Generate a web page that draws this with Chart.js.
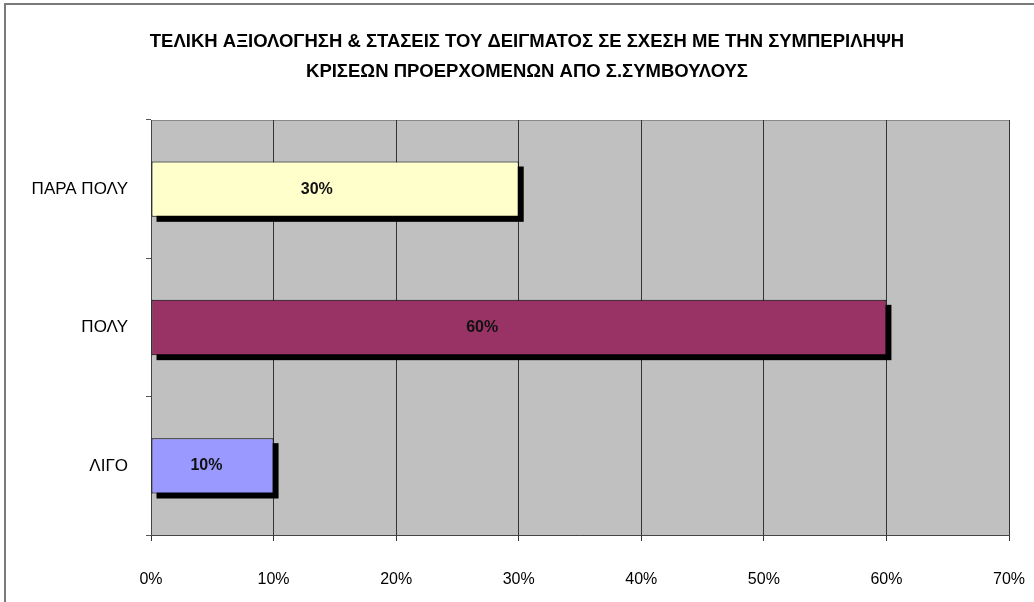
<!DOCTYPE html>
<html>
<head>
<meta charset="utf-8">
<script src="https://cdn.jsdelivr.net/npm/chart.js@4/dist/chart.umd.min.js"></script>
<style>
  html, body { margin: 0; padding: 0; background: #fff; }
  #wrap { width: 1034px; height: 602px; position: relative; }
</style>
</head>
<body>
<div id="wrap"><canvas id="bar-chart" width="1034" height="602"></canvas></div>
<script>
var categories = ['ΠΑΡΑ ΠΟΛΥ', 'ΠΟΛΥ', 'ΛΙΓΟ'];
var percentValues = [30, 60, 10];
var barColors = ['#FFFFCC', '#993366', '#9999FF'];
var titleLines = [
  'ΤΕΛΙΚΗ ΑΞΙΟΛΟΓΗΣΗ & ΣΤΑΣΕΙΣ ΤΟΥ ΔΕΙΓΜΑΤΟΣ ΣΕ ΣΧΕΣΗ ΜΕ ΤΗΝ ΣΥΜΠΕΡΙΛΗΨΗ',
  'ΚΡΙΣΕΩΝ ΠΡΟΕΡΧΟΜΕΝΩΝ ΑΠΟ Σ.ΣΥΜΒΟΥΛΟΥΣ'
];
var xMax = 70;
var xStep = 10;

var plain = '"Liberation Sans", Arial, sans-serif';

// grey plot area + outer frame
var backdrop = {
  id: 'backdrop',
  beforeDraw: function(chart) {
    var ctx = chart.ctx, a = chart.chartArea;
    ctx.save();
    ctx.fillStyle = '#fff';
    ctx.fillRect(0, 0, chart.width, chart.height);
    ctx.strokeStyle = '#7a7a7a';
    ctx.lineWidth = 2;
    ctx.strokeRect(5, 4, chart.width + 10, chart.height + 10);
    ctx.fillStyle = '#C0C0C0';
    ctx.fillRect(a.left, a.top, a.right - a.left, a.bottom - a.top);
    ctx.strokeStyle = '#8a8a8a';
    ctx.lineWidth = 1;
    ctx.strokeRect(a.left + 0.5, a.top + 0.5, a.right - a.left, a.bottom - a.top);
    ctx.restore();
  }
};

// title sits a bit right of the canvas centre in the original
var titleText = {
  id: 'titleText',
  afterDraw: function(chart) {
    var ctx = chart.ctx;
    ctx.save();
    ctx.font = 'bold 18.5px ' + plain;
    ctx.fillStyle = '#000';
    ctx.textAlign = 'center';
    ctx.textBaseline = 'middle';
    titleLines.forEach(function(line, i) {
      ctx.fillText(line, chart.width / 2 + 10, 42 + i * 30);
    });
    ctx.restore();
  }
};

// black drop shadow under bars (bar elements clip themselves, so paint it first)
var barShadow = {
  id: 'barShadow',
  beforeDatasetsDraw: function(chart) {
    var ctx = chart.ctx;
    var meta = chart.getDatasetMeta(0);
    ctx.save();
    ctx.fillStyle = '#000';
    meta.data.forEach(function(bar) {
      var top = bar.y - bar.height / 2;
      ctx.fillRect(bar.base + 5, top + 5, bar.x - bar.base, bar.height);
    });
    ctx.restore();
  }
};

// value labels inside bars
var valueLabels = {
  id: 'valueLabels',
  afterDatasetsDraw: function(chart) {
    var ctx = chart.ctx;
    var meta = chart.getDatasetMeta(0);
    ctx.save();
    ctx.font = 'bold 16px ' + plain;
    ctx.fillStyle = '#111';
    ctx.textAlign = 'center';
    ctx.textBaseline = 'middle';
    meta.data.forEach(function(bar, i) {
      var cx = bar.base + (bar.x - bar.base) * 0.45;
      ctx.fillText(percentValues[i] + '%', cx, bar.y);
    });
    ctx.restore();
  }
};

new Chart(document.getElementById('bar-chart'), {
  type: 'bar',
  data: {
    labels: categories,
    datasets: [{
      data: percentValues,
      backgroundColor: barColors,
      borderColor: '#000',
      borderWidth: 1,
      borderSkipped: false,
      categoryPercentage: 1,
      barPercentage: 0.4
    }]
  },
  options: {
    indexAxis: 'y',
    responsive: false,
    animation: false,
    layout: { padding: { left: 0, right: 25, top: 120, bottom: 0 } },
    plugins: {
      legend: { display: false },
      tooltip: { enabled: false },
      title: { display: false }
    },
    scales: {
      x: {
        min: 0,
        max: xMax,
        ticks: {
          stepSize: xStep,
          color: '#000',
          font: { family: plain, size: 16 },
          padding: 29,
          callback: function(v) { return v + '%'; }
        },
        grid: { color: '#333', lineWidth: 1, tickLength: 6, tickColor: '#333' },
        border: { color: '#444' },
        afterFit: function(scale) {
          scale.height = 67;
          scale.paddingLeft = 0;
          scale.paddingRight = 0;
        }
      },
      y: {
        ticks: {
          color: '#000',
          font: { family: plain, size: 17 },
          padding: 18
        },
        grid: { offset: true, drawOnChartArea: false, tickLength: 5, tickColor: '#555' },
        border: { color: '#444' },
        afterFit: function(scale) { scale.width = 151; }
      }
    }
  },
  plugins: [backdrop, barShadow, valueLabels, titleText]
});
</script>
</body>
</html>
